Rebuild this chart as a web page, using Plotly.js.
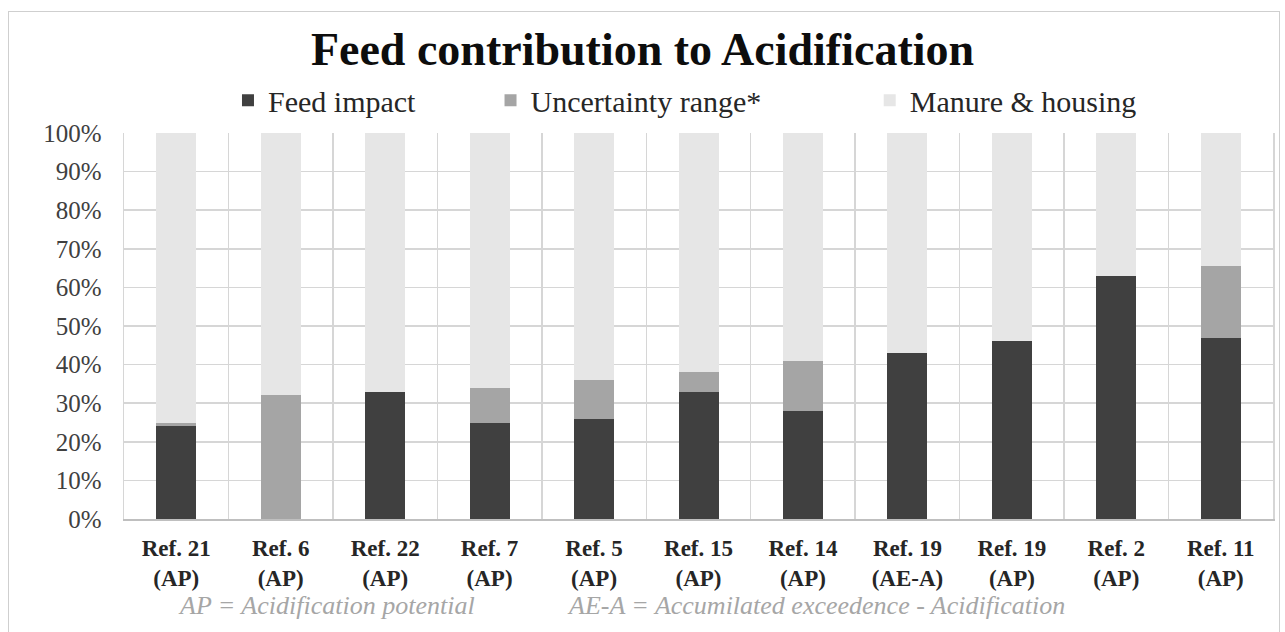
<!DOCTYPE html>
<html>
<head>
<meta charset="utf-8">
<script src="https://cdn.plot.ly/plotly-3.0.1.min.js"></script>
<style>
  html, body { margin: 0; padding: 0; background: #ffffff; }
  #wrap { position: relative; width: 1285px; height: 632px; overflow: hidden; }
  #chart { width: 1285px; height: 632px; }
  #frame { position: absolute; left: 8px; top: 11px; width: 1270px; height: 660px;
           border: 1px solid #cfcfcf; pointer-events: none; }
</style>
</head>
<body>
<div id="wrap">
  <div id="chart"></div>
  <div id="frame"></div>
</div>
<script>
const categories = [
  "Ref. 21<br>(AP)", "Ref. 6<br>(AP)", "Ref. 22<br>(AP)", "Ref. 7<br>(AP)",
  "Ref. 5<br>(AP)", "Ref. 15<br>(AP)", "Ref. 14<br>(AP)", "Ref. 19<br>(AE-A)",
  "Ref. 19<br>(AP)", "Ref. 2<br>(AP)", "Ref. 11<br>(AP)"
];
const feedImpact  = [24, 0, 33, 25, 26, 33, 28, 43, 46, 63, 47];
const uncertainty = [1, 32, 0, 9, 10, 5, 13, 0, 0, 0, 18.5];
const manure = feedImpact.map((v, i) => 100 - v - uncertainty[i]);

const seriesNames = ["Feed impact", "Uncertainty range*", "Manure &amp; housing"];
const seriesColors = ["#404040", "#a5a5a5", "#e6e6e6"];
const footnoteLeft = "AP = Acidification potential";
const footnoteRight = "AE-A = Accumilated exceedence - Acidification";

const serif = "Liberation Serif";

const traces = [feedImpact, uncertainty, manure].map((vals, i) => ({
  type: "bar",
  x: categories,
  y: vals,
  name: seriesNames[i],
  marker: { color: seriesColors[i], line: { width: 0 } },
  legend: i === 0 ? "legend" : (i === 1 ? "legend2" : "legend3"),
  hoverinfo: "skip"
}));

function legendAt(x) {
  return {
    orientation: "h",
    xanchor: "left",
    yanchor: "middle",
    x: x,
    y: 1.085,
    itemwidth: 30,
    bgcolor: "rgba(0,0,0,0)",
    font: { family: serif, size: 30, color: "#262626" }
  };
}

const layout = {
  width: 1285,
  height: 632,
  paper_bgcolor: "#ffffff",
  plot_bgcolor: "#ffffff",
  font: { family: serif },
  margin: { l: 124, r: 12, t: 133, b: 113 },
  barmode: "stack",
  bargap: 0.617,
  showlegend: true,
  title: {
    text: "<b>Feed contribution to Acidification</b>",
    font: { family: serif, size: 46, color: "#0d0d0d" },
    x: 0.5, xanchor: "center",
    y: 0.923, yanchor: "middle"
  },
  legend:  legendAt(0.0905),
  legend2: legendAt(0.319),
  legend3: legendAt(0.649),
  xaxis: {
    type: "category",
    tickson: "boundaries",
    showgrid: true,
    gridcolor: "#d6d6d6",
    gridwidth: 1.5,
    showline: true,
    linecolor: "#bfbfbf",
    linewidth: 1.5,
    mirror: false,
    ticks: "",
    ticklabelstandoff: 8,
    tickfont: { family: serif, size: 23, color: "#262626", weight: "bold" },
    fixedrange: true
  },
  yaxis: {
    range: [0, 100],
    dtick: 10,
    tick0: 0,
    ticksuffix: "%",
    showgrid: true,
    gridcolor: "#d6d6d6",
    gridwidth: 1.5,
    zeroline: false,
    showline: true,
    linecolor: "#d6d6d6",
    linewidth: 1.5,
    mirror: true,
    ticks: "",
    ticklabelstandoff: 16,
    tickfont: { family: serif, size: 25, color: "#404040" },
    fixedrange: true
  },
  annotations: [
    {
      text: "<i>" + footnoteLeft + "</i>",
      xref: "paper", yref: "paper",
      x: 0.176, y: -0.225, xanchor: "center", yanchor: "middle",
      showarrow: false,
      font: { family: serif, size: 26, color: "#a6a6a6" }
    },
    {
      text: "<i>" + footnoteRight + "</i>",
      xref: "paper", yref: "paper",
      x: 0.384, y: -0.225, xanchor: "left", yanchor: "middle",
      showarrow: false,
      font: { family: serif, size: 26, color: "#a6a6a6" }
    }
  ]
};

Plotly.newPlot("chart", traces, layout, { displayModeBar: false, staticPlot: true });
</script>
</body>
</html>
